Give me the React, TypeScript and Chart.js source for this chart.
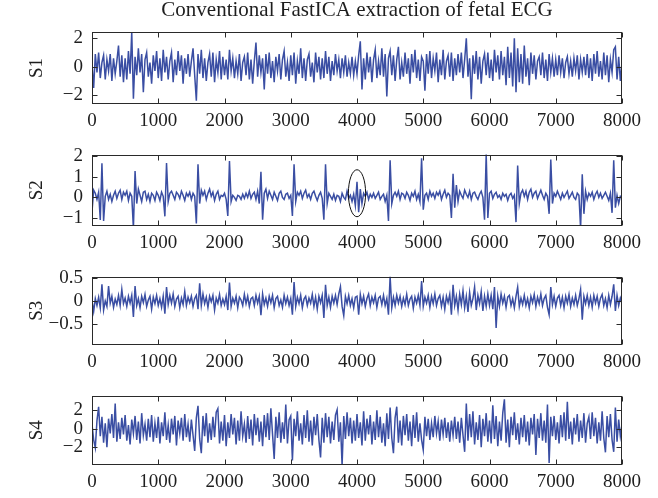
import React, { useEffect, useRef } from "react";
import { Chart, registerables } from "chart.js";

Chart.register(...registerables);

// ---------------- data ----------------
const STEP = 25; // samples between stored points
const sampleIndex: number[] = Array.from({ length: 321 }, (_, k) => k * STEP);
const xTicks = [0, 1000, 2000, 3000, 4000, 5000, 6000, 7000, 8000];

const s1 = [
  0.2, -1.5, 0.9, -0.4, 1.0, -0.8, 0.3, 0.8, -0.9, 0.5, -0.3, 0.9, -1.0, 0.6, -0.5, 0.4, 1.5, -0.7, 0.8, -1.1,
  0.6, -0.9, 1.1, -0.5, 2.45, -2.26, 0.7, -0.6, 1.3, -0.4, 0.9, -1.8, 0.5, 1.0, -0.7, 0.3, -1.2, 0.8, -0.3, 1.1,
  -0.8, 0.6, -1.0, 1.2, -0.4, 0.7, -0.9, 0.4, 1.0, -1.1, 0.5, -0.6, 1.1, -0.3, 0.8, -1.2, 0.6, -0.5, 0.9, -0.7,
  0.4, 1.3, -0.6, -2.4, 0.9, -0.5, 1.2, -0.8, 0.6, -1.0, 0.3, 0.9, -0.7, 1.0, -1.1, 0.5, -0.4, 1.1, -0.9, 0.7,
  -0.6, 0.5, -0.9, 1.2, -0.3, 0.6, -0.8, 0.4, -0.5, 0.9, -1.0, 0.3, 0.7, -0.6, 1.0, -0.9, 0.5, -1.2, 0.4, 1.7,
  -0.7, 0.8, -0.4, 0.6, -1.6, 0.9, -0.5, 1.0, -0.8, 0.4, -1.1, 0.7, -0.3, 0.9, -0.9, 0.5, 1.1, -0.7, 0.3, -1.0,
  0.8, -0.6, 1.0, -1.2, 0.4, -0.5, 1.3, -0.8, 0.6, -1.0, 0.5, 0.9, -0.7, 0.3, -1.1, 1.0, -0.4, 0.7, -0.9, 0.6,
  -0.8, 1.1, -0.5, 0.7, -1.0, 0.4, -0.6, 0.9, -0.3, 0.5, -0.8, 0.6, -0.4, 0.8, -0.7, 0.3, -0.5, 0.7, -0.6, 0.4,
  -0.5, 0.8, 1.8, -1.6, 0.6, -0.9, 1.0, -0.4, 0.7, -1.1, 0.5, 1.2, -0.8, 0.4, -0.6, 1.3, -0.7, 0.9, -2.1, 0.6,
  1.1, -0.6, 0.8, -1.0, 0.5, 1.4, -0.9, 0.3, -0.7, 1.0, -0.5, 0.6, -1.2, 0.9, -0.4, 1.2, -0.8, 0.5, -1.0, 0.7,
  0.4, -1.7, 0.9, -0.5, 1.1, -0.8, 0.6, -0.3, 1.0, -1.1, 0.5, -0.6, 1.2, -0.9, 0.4, 0.8, -0.7, 1.0, -1.0, 0.6,
  -0.6, 0.9, -0.4, 1.0, -0.8, 0.5, 2.0, -0.7, 0.6, -2.3, 0.8, -0.5, 1.1, -0.9, 0.7, -1.2, 0.4, 0.9, -0.6, 1.0,
  -0.8, 0.5, -1.0, 1.2, -0.4, 0.8, -0.9, 1.1, -0.6, 0.7, -1.3, 1.4, -0.8, 1.0, -1.4, 2.0, -1.8, 1.3, -1.1, 0.9,
  -1.2, 1.5, -0.7, 0.6, -1.3, 1.0, -0.5, 0.8, -0.9, 0.4, 0.7, -0.6, 1.0, -0.8, 0.5, -1.0, 0.9, -0.4, 0.6, -0.7,
  0.5, -0.6, 0.8, -0.4, 0.6, -0.8, 0.3, 0.7, -0.5, 0.4, -0.7, 0.6, -0.3, 0.8, -0.9, 0.5, -0.4, 0.7, -0.6, 0.9,
  -0.8, 0.6, -1.0, 0.9, -0.5, 1.1, -0.7, 0.4, -0.9, 1.0, -0.6, 0.8, -1.1, 0.5, -0.4, 1.2, 1.4, -0.9, 0.7, -1.0,
  0.3,
];

const s2 = [
  -0.7, 0.35, 0.2, -0.1, 0.25, -1.1, 1.66, -1.15, 0.05, 0.3, -0.1, 0.15, -0.2, 0.1, 0.3, -0.05, 0.2, 0.35, -0.1, 0.25,
  0.1, 0.3, -0.15, 0.2, 0.05, -1.5, 1.28, -0.3, 0.4, 0.1, -0.2, 0.25, 0.3, -0.1, 0.15, -0.2, 0.2, 0.1, -0.15, 0.25,
  0.1, -0.15, 0.25, 0.05, -0.92, 1.67, -0.2, 0.2, 0.3, 0.1, -0.1, 0.25, 0.15, -0.05, 0.3, 0.1, -0.15, 0.2, 0.05, 0.25,
  -0.1, 0.2, 0.05, -1.27, 1.6, -0.3, 0.35, 0.1, 0.3, -0.1, 0.2, 0.4, 0.05, 0.25, -0.15, 0.15, 0.3, -0.1, 0.1, 0.05,
  0.2, -0.1, -0.9, 1.76, -0.2, 0.1, 0.0, -0.15, 0.1, 0.05, -0.1, 0.15, -0.05, 0.2, 0.0, 0.3, -0.05, 0.15, 0.25, -0.1,
  0.3, -0.3, 1.24, -1.08, 0.2, 0.4, -0.05, 0.3, 0.1, -0.1, 0.25, 0.05, -0.15, 0.2, 0.3, 0.0, -0.1, 0.15, 0.2, -0.05,
  0.1, -0.9, 1.6, -0.2, 0.25, 0.1, 0.3, -0.05, 0.2, 0.35, 0.0, 0.15, -0.1, 0.2, 0.3, 0.05, -0.15, 0.1, 0.25, -0.05,
  -1.08, 1.6, -0.3, 0.2, 0.05, -0.1, 0.15, -0.15, 0.1, 0.05, -0.2, 0.2, 0.0, -0.1, 0.3, -0.05, 0.1, -0.2, 0.15, -0.4,
  0.75, -0.72, 0.4, -0.3, 0.2, 0.05, 0.25, -0.1, 0.15, 0.0, 0.2, -0.05, 0.1, 0.25, -0.1, 0.05, 0.15, -0.2, 0.1, -1.15,
  1.8, -0.3, 0.1, 0.25, 0.05, 0.3, -0.1, 0.2, 0.15, -0.05, 0.25, 0.1, -0.15, 0.2, 0.05, 0.3, -0.1, 0.15, -0.2, 1.9,
  -0.6, 0.1, 0.2, -0.1, 0.3, 0.05, 0.2, -0.05, 0.25, 0.1, 0.3, -0.1, 0.15, 0.35, 0.0, 0.2, 0.1, -1.0, 1.15, -0.5,
  0.6, -0.2, 0.3, 0.1, -0.05, 0.35, 0.15, 0.0, 0.3, -0.1, 0.2, 0.25, 0.05, -0.1, 0.15, 0.3, 0.0, -1.08, 2.1, -1.0,
  0.2, 0.3, -0.05, 0.15, 0.25, 0.0, 0.1, -0.1, 0.2, 0.05, 0.15, -0.15, 0.1, 0.2, -0.05, 0.1, -1.2, 1.55, -0.3, 0.2,
  0.35, 0.05, 0.3, -0.1, 0.25, 0.4, 0.0, 0.2, 0.3, -0.05, 0.15, 0.35, 0.1, -0.1, 0.2, 0.05, -0.8, 1.84, -0.3, 0.2,
  0.05, 0.3, 0.1, -0.1, 0.2, 0.0, 0.15, 0.3, -0.05, 0.1, 0.25, 0.0, -0.1, 0.2, 0.1, -1.5, 1.12, -0.8, 0.3, -0.1,
  0.2, 0.05, 0.25, -0.1, 0.15, 0.3, 0.0, 0.2, -0.05, 0.1, 0.25, 0.05, -0.15, 0.2, -0.75, 1.8, -0.5, 0.1, -0.3, 0.05,
  -0.05,
];

const s3 = [
  0.0, -0.23, 0.05, -0.1, 0.08, -0.15, 0.36, -0.2, 0.0, -0.12, 0.32, -0.05, 0.1, -0.14, 0.04, -0.08, 0.12, -0.1, 0.25, -0.06,
  0.06, -0.12, 0.1, -0.05, 0.12, -0.35, 0.32, -0.1, 0.05, -0.15, 0.1, -0.04, 0.14, -0.12, 0.02, 0.1, -0.18, 0.08, -0.06, 0.12,
  -0.1, 0.05, -0.14, 0.1, -0.28, 0.3, -0.08, 0.12, -0.05, 0.15, -0.12, 0.04, 0.1, -0.15, 0.06, -0.08, 0.2, -0.1, 0.08, -0.04,
  0.1, -0.12, 0.05, 0.12, -0.18, 0.38, -0.1, 0.15, -0.06, 0.08, -0.14, 0.1, -0.02, 0.12, -0.2, 0.06, -0.05, 0.14, -0.1, 0.04,
  -0.08, 0.1, -0.2, 0.4, -0.12, 0.06, -0.05, 0.1, -0.15, 0.08, 0.02, -0.1, 0.14, -0.06, 0.1, -0.12, 0.05, 0.08, -0.1, 0.12,
  -0.05, 0.1, -0.31, 0.15, -0.08, 0.06, -0.12, 0.1, -0.04, 0.12, -0.15, 0.05, 0.1, -0.1, 0.02, -0.14, 0.12, -0.06, 0.08, -0.1,
  0.05, -0.3, 0.41, -0.12, 0.08, -0.06, 0.12, -0.15, 0.04, 0.1, -0.1, 0.06, -0.05, 0.14, -0.12, 0.08, -0.18, 0.1, -0.04, 0.12,
  -0.37, 0.35, -0.1, 0.08, -0.14, 0.1, -0.05, 0.12, -0.08, 0.15, 0.31, -0.12, -0.32, 0.1, -0.06, 0.12, -0.1, 0.05, -0.15, 0.08,
  0.1, -0.3, 0.14, -0.06, 0.1, -0.12, 0.05, 0.15, -0.1, 0.08, -0.04, 0.12, -0.14, 0.06, 0.1, -0.08, 0.12, -0.1, 0.05, -0.3,
  0.53, -0.15, 0.08, -0.1, 0.12, -0.05, 0.1, -0.12, 0.06, -0.08, 0.14, -0.1, 0.04, 0.1, -0.16, 0.08, -0.05, 0.12, -0.1, 0.43,
  -0.12, 0.08, -0.05, 0.12, -0.14, 0.1, -0.06, 0.15, -0.1, 0.05, 0.12, -0.12, 0.08, -0.18, 0.1, -0.04, 0.14, -0.3, 0.35, -0.1,
  0.1, -0.2, 0.15, -0.08, 0.22, -0.15, 0.1, -0.24, 0.18, -0.1, 0.05, 0.3, -0.2, 0.12, -0.06, 0.2, -0.22, 0.1, -0.12, 0.15,
  -0.1, 0.12, -0.18, 0.3, -0.59, 0.1, -0.12, 0.15, -0.05, 0.1, -0.14, 0.08, 0.12, -0.1, 0.05, -0.15, 0.1, 0.3, -0.12, 0.06,
  -0.08, 0.12, -0.1, 0.05, -0.15, 0.1, -0.04, 0.14, -0.12, 0.08, -0.06, 0.15, -0.1, 0.05, 0.12, -0.14, -0.3, 0.3, -0.08, 0.1,
  -0.12, 0.06, 0.12, -0.1, 0.08, -0.15, 0.1, -0.05, 0.14, -0.12, 0.06, -0.08, 0.12, -0.1, 0.05, 0.25, -0.41, 0.1, -0.06, 0.12,
  -0.1, 0.08, -0.14, 0.12, -0.05, 0.1, -0.12, 0.06, 0.14, -0.1, 0.05, -0.15, 0.12, -0.08, 0.1, 0.36, -0.22, 0.12, -0.1, 0.06,
  -0.05,
];

const s4 = [
  0.5, -1.2, -2.07, 0.9, 2.4, -0.8, 1.3, -1.5, 0.6, -2.0, 1.1, -0.5, 1.6, -1.0, 2.76, -1.4, 0.7, -1.1, 1.2, -0.6,
  1.5, -1.3, 0.4, -1.7, 1.0, -0.5, 1.4, -1.2, 0.8, -1.6, 1.7, -0.7, 0.5, -1.3, 1.1, -0.9, 1.5, -1.4, 0.6, -1.0,
  1.3, -1.6, 0.7, -0.8, 1.8, -1.2, 0.4, -1.5, 1.1, -0.6, 1.4, -1.8, 0.9, -0.5, 1.2, -1.3, 1.6, -0.9, 0.5, -1.4,
  1.0, -0.7, -2.4, 1.2, 2.5, -1.1, -2.65, 1.4, -0.8, 1.7, -1.5, 0.6, -1.2, 1.3, -0.9, 1.8, 2.2, -1.6, 0.8, -1.3,
  1.5, -1.9, 0.7, -1.0, 1.6, -0.6, 1.2, -1.7, 0.9, -1.3, 1.9, -0.8, 0.5, -1.5, 1.4, -1.1, 1.0, -1.8, 1.6, -0.7,
  1.2, -1.4, 0.8, -1.9, 1.5, -0.9, 1.7, -1.2, 2.24, -0.6, -3.27, 1.3, -1.0, 1.8, -1.5, 0.7, -1.1, 2.65, -1.6, 1.0,
  1.4, -3.45, 1.1, -0.8, 1.9, -1.3, 0.6, -1.7, 1.5, -1.0, 2.0, -1.4, 0.9, -1.8, 1.3, -0.7, 1.6, -1.2, -3.1, 1.2,
  -1.5, 1.7, -0.9, 1.3, -1.6, 0.8, -1.2, 1.5, 2.07, -1.4, 0.7, -4.0, 1.4, -1.1, 1.8, -0.8, 1.2, -1.6, 0.9, -1.3,
  1.6, -1.0, 0.7, -1.8, 1.9, -1.3, 1.1, -0.6, 1.5, -1.7, 0.8, -1.2, 2.0, -0.9, 1.3, -1.5, 0.6, -1.9, 1.7, -1.1,
  2.3, -1.0, -2.65, 1.2, 2.4, -1.5, 0.9, -1.8, 1.4, -0.7, 1.6, -1.3, 0.8, -1.9, 1.5, -1.0, 1.8, -1.4, 0.6, -1.2,
  -2.3, 1.3, -0.8, 1.1, -1.2, 0.6, -0.9, 1.4, -0.5, 0.8, -1.3, 1.0, -0.6, 1.2, -1.0, 0.7, -1.4, 0.9, -0.7, 1.3,
  -1.1, 0.8, -1.5, 1.2, -0.7, -2.5, 2.76, -1.3, 1.6, -0.9, 1.9, -1.7, 0.7, -1.2, 1.5, -2.0, 1.1, -0.8, 1.7, -1.4,
  0.9, -1.6, 2.55, -1.1, 1.4, -1.9, 0.8, -1.3, 1.7, 3.2, -1.5, 1.0, -2.0, 1.3, -0.7, 1.8, -1.2, 0.6, -1.7, 1.2,
  -0.9, 1.5, -1.4, 0.8, -1.8, 1.2, -0.6, 1.6, -2.85, 1.1, -1.0, 1.7, -1.3, 0.9, -1.5, 2.65, -3.7, 1.3, -0.8, 1.4,
  -1.2, 0.7, -1.6, 1.5, -0.9, 1.8, -1.3, 2.93, -1.1, 0.8, -1.7, 1.2, -0.6, 1.6, -1.4, 0.9, -1.0, 1.7, -1.5, 0.6,
  1.3, -1.1, 1.8, -0.8, 1.2, -1.6, 0.7, -1.3, 1.9, -1.0, -2.55, 1.4, -0.9, 1.6, -1.2, -2.5, 2.3, -1.4, 1.0, -0.8,
  0.4,
];

const s1Ticks = [-2, 0, 2];
const s2Ticks = [-1, 0, 1, 2];
const s3Ticks = [-0.5, 0, 0.5];
const s4Ticks = [-2, 0, 2];

const s1Range = [-2.63, 2.45];
const s2Range = [-1.39, 2.08];
const s3Range = [-0.96, 0.53];
const s4Range = [-3.93, 3.62];

// circled fetal beat in S2 (data coordinates)
const s2Marker = { xFrom: 3870, xTo: 4130, yFrom: -0.94, yTo: 1.34 };

const TITLE = "Conventional FastICA extraction of fetal ECG";

// ---------------- layout / style ----------------
const W = 658;
const FONT = "'Liberation Serif', 'DejaVu Serif', serif";
const LINE = "#3a4ea3";
const INK = "#1e1e1e";

type Panel = {
  label: string;
  values: number[];
  range: number[];
  yTicks: number[];
  top: number;
  height: number;
  plotTop: number;
  plotBottom: number;
  title?: string;
  marker?: typeof s2Marker;
};

const panels: Panel[] = [
  { label: "S1", values: s1, range: s1Range, yTicks: s1Ticks, top: 0, height: 136, plotTop: 32, plotBottom: 104, title: TITLE },
  { label: "S2", values: s2, range: s2Range, yTicks: s2Ticks, top: 136, height: 122, plotTop: 153, plotBottom: 226, marker: s2Marker },
  { label: "S3", values: s3, range: s3Range, yTicks: s3Ticks, top: 258, height: 119, plotTop: 273, plotBottom: 345 },
  { label: "S4", values: s4, range: s4Range, yTicks: s4Ticks, top: 377, height: 121, plotTop: 392, plotBottom: 465 },
];

const fmt = (v: number) => String(v).replace("-", "\u2212");

const framePlugin = {
  id: "frame",
  afterDatasetsDraw(chart: any, _args: any, opts: any) {
    const { ctx, chartArea: a, scales } = chart;
    const xs = scales.x;
    const ys = scales.y;
    const L = Math.round(a.left) + 0.5;
    const R = Math.round(a.right) - 0.5;
    const T = Math.round(a.top) + 0.5;
    const B = Math.round(a.bottom) - 0.5;
    ctx.save();
    ctx.strokeStyle = "#2a2a2a";
    ctx.lineWidth = 1;
    ctx.strokeRect(L, T, R - L, B - T);
    ctx.beginPath();
    xs.ticks.forEach((t: any) => {
      const px = Math.round(xs.getPixelForValue(t.value)) + 0.5;
      ctx.moveTo(px, B);
      ctx.lineTo(px, B - 5);
      ctx.moveTo(px, T);
      ctx.lineTo(px, T + 5);
    });
    ys.ticks.forEach((t: any) => {
      const py = Math.round(ys.getPixelForValue(t.value)) + 0.5;
      ctx.moveTo(L, py);
      ctx.lineTo(L + 5, py);
      ctx.moveTo(R, py);
      ctx.lineTo(R - 5, py);
    });
    ctx.stroke();
    const m = opts && opts.marker;
    if (m) {
      const x0 = xs.getPixelForValue(m.xFrom);
      const x1 = xs.getPixelForValue(m.xTo);
      const y0 = ys.getPixelForValue(m.yTo);
      const y1 = ys.getPixelForValue(m.yFrom);
      ctx.beginPath();
      ctx.strokeStyle = "#111";
      ctx.ellipse((x0 + x1) / 2, (y0 + y1) / 2, (x1 - x0) / 2, (y1 - y0) / 2, 0, 0, Math.PI * 2);
      ctx.stroke();
    }
    ctx.restore();
  },
};

function PanelChart({ p }: { p: Panel }) {
  const ref = useRef<HTMLCanvasElement | null>(null);
  useEffect(() => {
    if (!ref.current) return;
    const hasTitle = !!p.title;
    const chart = new Chart(ref.current, {
      type: "line",
      data: {
        datasets: [
          {
            data: p.values.map((v, i) => ({ x: sampleIndex[i], y: v })),
            borderColor: LINE,
            borderWidth: 1.5,
            pointRadius: 0,
            tension: 0,
            fill: false,
          },
        ],
      },
      plugins: [framePlugin],
      options: {
        animation: false,
        responsive: false,
        devicePixelRatio: 1,
        events: [],
        layout: {
          padding: { top: hasTitle ? 0 : p.plotTop - p.top, left: 0, right: W - 622, bottom: 0 },
        },
        plugins: {
          legend: { display: false },
          tooltip: { enabled: false },
          title: {
            display: hasTitle,
            text: p.title || "",
            fullSize: false,
            color: INK,
            font: { family: FONT, size: 21, weight: "normal", lineHeight: 1 },
            padding: { top: 0, bottom: p.plotTop - 21 },
          },
          frame: { marker: p.marker },
        } as any,
        scales: {
          x: {
            type: "linear",
            min: 0,
            max: 8000,
            grid: { display: false, drawTicks: false },
            border: { display: false },
            afterBuildTicks: (s: any) => {
              s.ticks = xTicks.map((v) => ({ value: v }));
            },
            afterFit: (s: any) => {
              s.height = p.top + p.height - p.plotBottom;
            },
            ticks: {
              autoSkip: false,
              maxRotation: 0,
              padding: 6,
              color: INK,
              font: { family: FONT, size: 19 },
              callback: (v: any) => fmt(Number(v)),
            },
          },
          y: {
            type: "linear",
            min: p.range[0],
            max: p.range[1],
            grid: { display: false, drawTicks: false },
            border: { display: false },
            afterBuildTicks: (s: any) => {
              s.ticks = p.yTicks.map((v) => ({ value: v }));
            },
            afterFit: (s: any) => {
              s.width = 92;
            },
            ticks: {
              autoSkip: false,
              padding: 9,
              color: INK,
              font: { family: FONT, size: 19, lineHeight: 1 },
              callback: (v: any) => fmt(Number(v)),
            },
            title: {
              display: true,
              text: p.label,
              color: INK,
              font: { family: FONT, size: 19, lineHeight: 1 },
              padding: { top: 28, bottom: 0 },
            },
          },
        },
      } as any,
    });
    return () => chart.destroy();
  }, [p]);
  return (
    <canvas
      ref={ref}
      width={W}
      height={p.height}
      style={{ position: "absolute", left: 0, top: p.top, width: W, height: p.height }}
    />
  );
}

export default function App() {
  return (
    <div style={{ position: "fixed", left: 0, top: 0, width: W, height: 498, background: "#fff" }}>
      {panels.map((p) => (
        <PanelChart key={p.label} p={p} />
      ))}
    </div>
  );
}
